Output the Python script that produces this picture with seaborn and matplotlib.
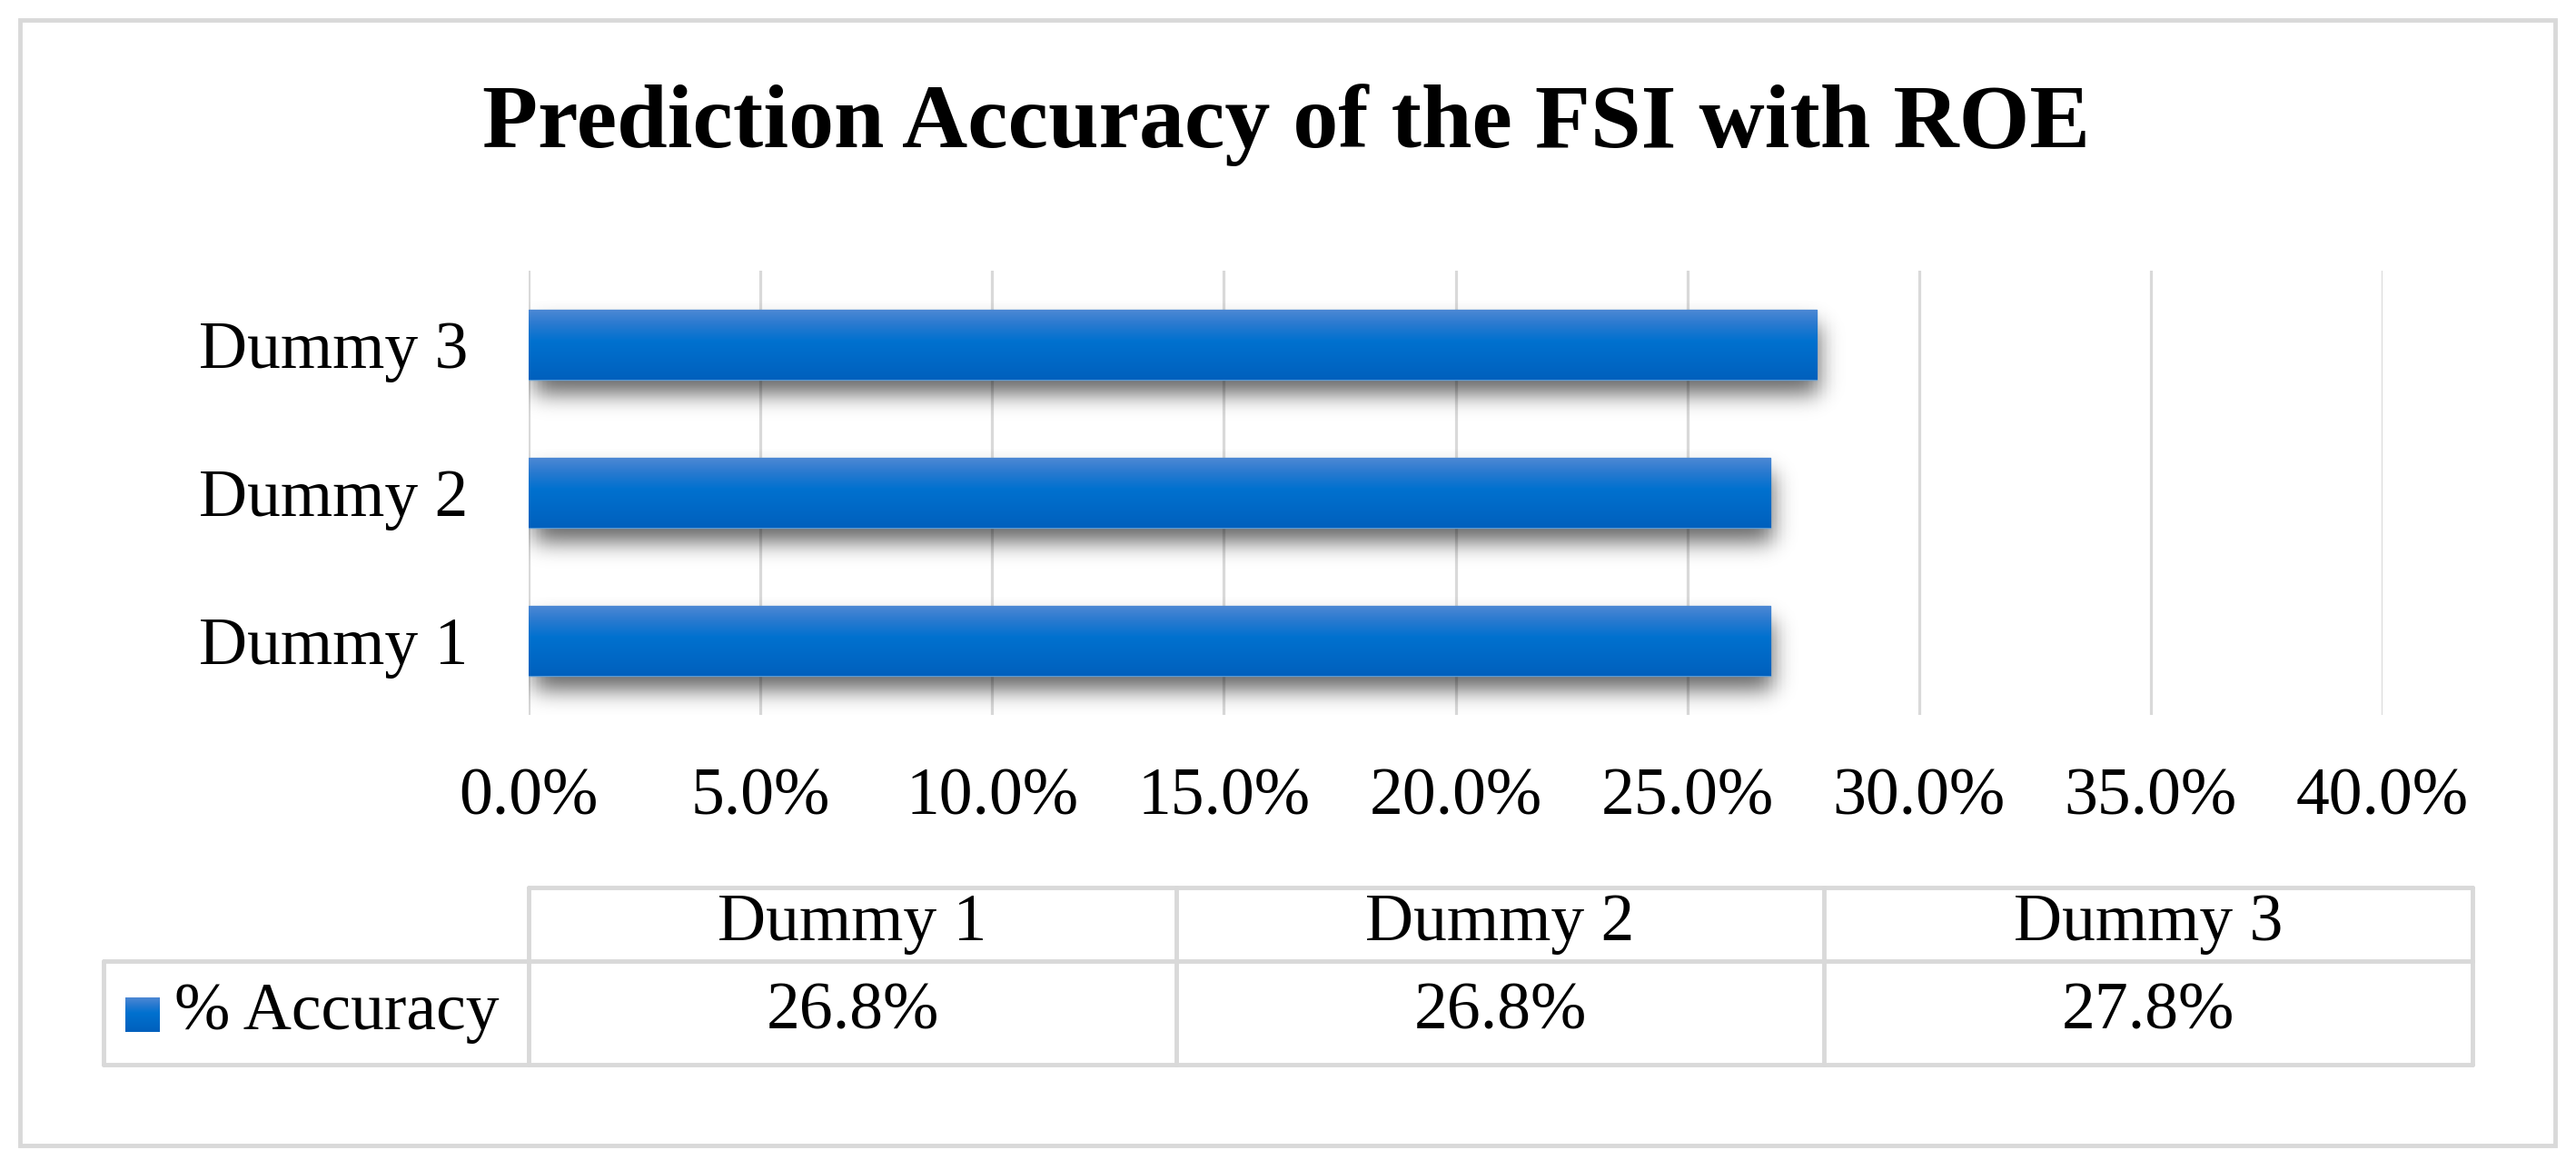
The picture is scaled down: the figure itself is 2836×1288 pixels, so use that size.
import math
import numpy as np
import matplotlib
matplotlib.use("Agg")
import matplotlib.pyplot as plt
from matplotlib.colors import LinearSegmentedColormap
import seaborn as sns

# data
categories = ["Dummy 1", "Dummy 2", "Dummy 3"]
accuracy = [26.8, 26.8, 27.8]
x_ticks = [0, 5, 10, 15, 20, 25, 30, 35, 40]
series_name = "% Accuracy"
title = "Prediction Accuracy of the FSI with ROE"

W, H = 2836, 1288
DPI = 100
GRID = "#d9d9d9"

sns.set_style("white")
plt.rcParams["font.family"] = ["Liberation Serif", "DejaVu Serif"]
plt.rcParams["text.color"] = "black"
plt.rcParams["xtick.color"] = "black"
plt.rcParams["ytick.color"] = "black"

fig = plt.figure(figsize=(W / DPI, H / DPI), dpi=DPI)

# background layer in pixel coordinates (border, title, table)
bg = fig.add_axes([0, 0, 1, 1])
bg.set_xlim(0, W)
bg.set_ylim(H, 0)
bg.axis("off")
bg.add_patch(plt.Rectangle((22, 22), 2791, 1239, fill=False, ec=GRID, lw=3.5))
bg.text(W / 2 - 2, 138, title, ha="center", va="center", fontsize=72, fontweight="bold")

# bar chart
left, right, top, bottom = 582, 2623, 298, 787
ax = fig.add_axes([left / W, 1 - bottom / H, (right - left) / W, (bottom - top) / H])
order = categories[::-1]
sns.barplot(x=accuracy, y=categories, order=order, orient="h", color="#0070cc",
            width=0.47, ax=ax, zorder=3, edgecolor="#5b9bd5", linewidth=1)
ax.set_xlim(0, 40)
ax.set_ylim(len(order) - 0.5, -0.5)
ax.set_xticks(x_ticks)
ax.set_xticklabels([f"{t:.1f}%" for t in x_ticks])
ax.tick_params(axis="x", length=0, pad=42, labelsize=53)
ax.tick_params(axis="y", length=0, pad=48, labelsize=53)
ax.set_xlabel("")
ax.set_ylabel("")
for s in ax.spines.values():
    s.set_visible(False)
for t in x_ticks:
    ax.axvline(t, color=GRID, lw=2.3, zorder=1)

grad = LinearSegmentedColormap.from_list(
    "bar", [(0, "#0060bd"), (0.55, "#0071cf"), (0.8, "#2a7ad0"), (1, "#4c88d4")])
px_x = (right - left) / 40.0
px_y = (bottom - top) / 3.0
erf = np.vectorize(math.erf)

for p in ax.patches:
    x0, y0 = p.get_x(), p.get_y()
    w, h = p.get_width(), p.get_height()
    # gradient fill (y axis inverted: image row 0 drawn at top)
    g = np.linspace(1, 0, 200).reshape(-1, 1)
    im = ax.imshow(g, cmap=grad, aspect="auto", extent=(x0, x0 + w, y0 + h, y0),
                   zorder=4, vmin=0, vmax=1)
    im.set_clip_path(p)
    # soft drop shadow
    sig, dx, dy = 12.0, 4.0, 16.0
    xs = np.linspace(x0 - 30 / px_x, x0 + w + 50 / px_x, 300)
    ys = np.linspace(y0 - 10 / px_y, y0 + h + 60 / px_y, 160)
    X, Y = np.meshgrid((xs - x0) * px_x, (ys - y0) * px_y)
    wx, hy = w * px_x, h * px_y
    ax_ = 0.5 * (erf((X - dx) / (sig * 1.414)) - erf((X - dx - wx) / (sig * 1.414)))
    ay_ = 0.5 * (erf((Y - dy) / (sig * 1.414)) - erf((Y - dy - hy) / (sig * 1.414)))
    rgba = np.zeros(X.shape + (4,))
    rgba[..., 3] = 0.6 * ax_ * ay_
    ax.imshow(rgba, aspect="auto", extent=(xs[0], xs[-1], ys[-1], ys[0]), zorder=2)
ax.set_xlim(0, 40)
ax.set_ylim(len(order) - 0.5, -0.5)

# data table under the chart
cols = [582, 1295, 2008, 2722]
row_t, row_m, row_b = 977, 1058, 1172
tl = 114
bg.plot([cols[0], cols[-1]], [row_t, row_t], color=GRID, lw=3.5)
bg.plot([tl, cols[-1]], [row_m, row_m], color=GRID, lw=3.5)
bg.plot([tl, cols[-1]], [row_b, row_b], color=GRID, lw=3.5)
bg.plot([tl, tl], [row_m, row_b], color=GRID, lw=3.5)
for c in cols:
    bg.plot([c, c], [row_t, row_b], color=GRID, lw=3.5)
for i, (cat, val) in enumerate(zip(categories, accuracy)):
    cx = (cols[i] + cols[i + 1]) / 2
    bg.text(cx, (row_t + row_m) / 2, cat, ha="center", va="center", fontsize=53)
    bg.text(cx, (row_m + row_b) / 2, f"{val:.1f}%", ha="center", va="center", fontsize=53)
sw = 38
sy = (row_m + row_b) / 2 - sw / 2 + 2
g = np.linspace(1, 0, 50).reshape(-1, 1)
bg.imshow(g, cmap=grad, aspect="auto", extent=(138, 138 + sw, sy + sw, sy), vmin=0, vmax=1)
bg.text(192, (row_m + row_b) / 2, series_name, ha="left", va="center", fontsize=53)
bg.set_xlim(0, W)
bg.set_ylim(H, 0)

fig.savefig("out.png", dpi=DPI)
